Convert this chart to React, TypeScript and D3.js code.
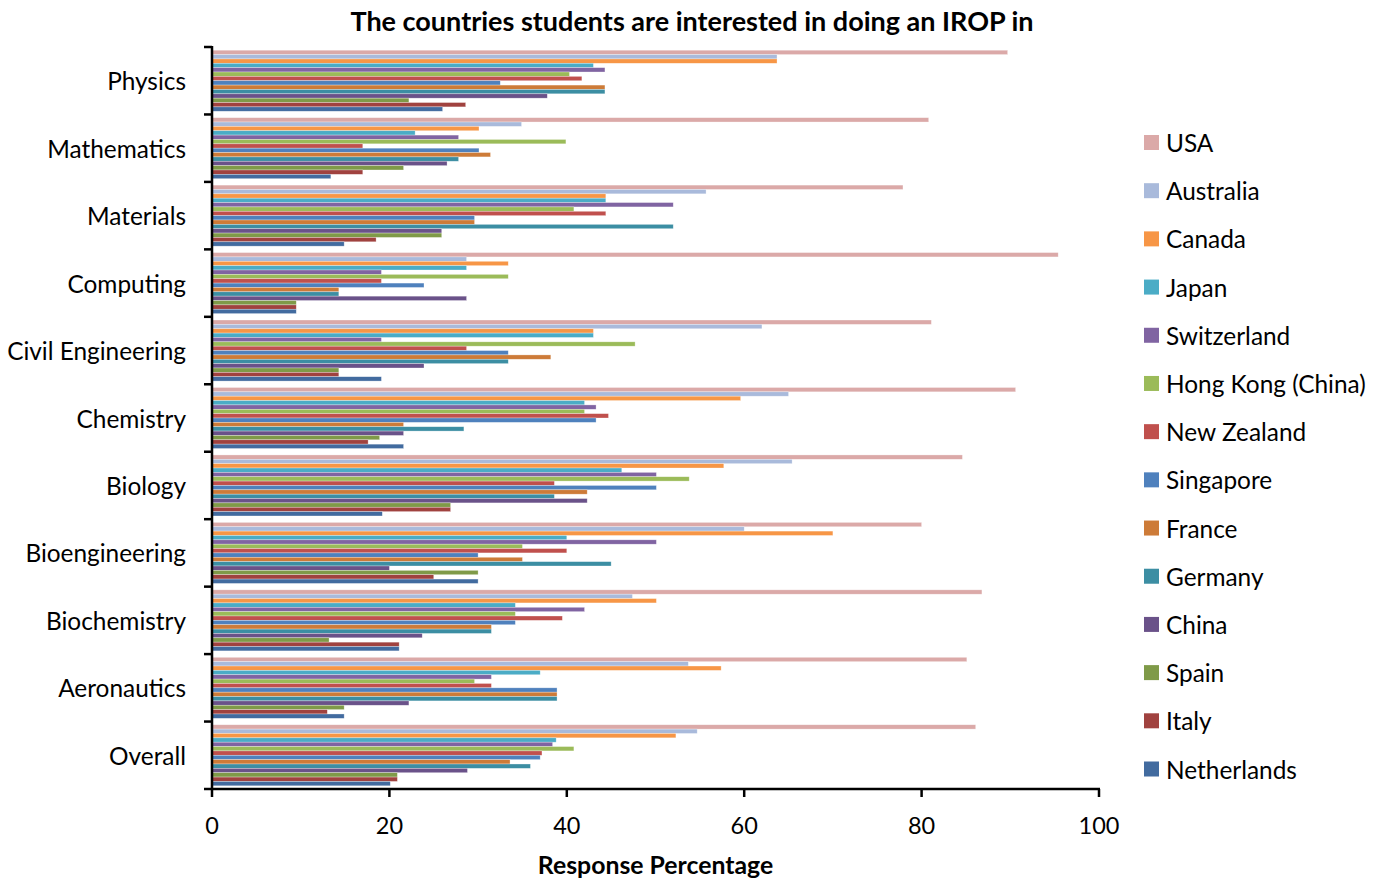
import * as d3 from "d3";
import { useEffect, useRef } from "react";

const categories = [
  "Physics",
  "Mathematics",
  "Materials",
  "Computing",
  "Civil Engineering",
  "Chemistry",
  "Biology",
  "Bioengineering",
  "Biochemistry",
  "Aeronautics",
  "Overall",
];

const countries = [
  "USA",
  "Australia",
  "Canada",
  "Japan",
  "Switzerland",
  "Hong Kong (China)",
  "New Zealand",
  "Singapore",
  "France",
  "Germany",
  "China",
  "Spain",
  "Italy",
  "Netherlands",
];

const colors = [
  "#DBA9A8",
  "#A9BADB",
  "#F79646",
  "#4BACC6",
  "#8064A2",
  "#9BBB59",
  "#C0504D",
  "#4F81BD",
  "#CD7B38",
  "#3C8EA3",
  "#6A5289",
  "#7F9A48",
  "#A0423F",
  "#426B9F",
];

// values per country, in the order of categories
const usa = [89.7, 80.8, 77.9, 95.4, 81.1, 90.6, 84.6, 80.0, 86.8, 85.1, 86.1];
const australia = [63.7, 34.9, 55.7, 28.7, 62.0, 65.0, 65.4, 60.0, 47.4, 53.7, 54.7];
const canada = [63.7, 30.1, 44.4, 33.4, 43.0, 59.6, 57.7, 70.0, 50.1, 57.4, 52.3];
const japan = [43.0, 22.9, 44.4, 28.7, 43.0, 42.0, 46.2, 40.0, 34.2, 37.0, 38.8];
const switzerland = [44.3, 27.8, 52.0, 19.1, 19.1, 43.3, 50.1, 50.1, 42.0, 31.5, 38.4];
const hongKong = [40.3, 39.9, 40.8, 33.4, 47.7, 42.0, 53.8, 35.0, 34.2, 29.6, 40.8];
const newZealand = [41.7, 17.0, 44.4, 19.1, 28.7, 44.7, 38.6, 40.0, 39.5, 31.5, 37.2];
const singapore = [32.5, 30.1, 29.6, 23.9, 33.4, 43.3, 50.1, 30.0, 34.2, 38.9, 37.0];
const france = [44.3, 31.4, 29.6, 14.3, 38.2, 21.6, 42.3, 35.0, 31.5, 38.9, 33.6];
const germany = [44.3, 27.8, 52.0, 14.3, 33.4, 28.4, 38.6, 45.0, 31.5, 38.9, 35.9];
const china = [37.8, 26.5, 25.9, 28.7, 23.9, 21.6, 42.3, 20.0, 23.7, 22.2, 28.8];
const spain = [22.2, 21.6, 25.9, 9.5, 14.3, 18.9, 26.9, 30.0, 13.2, 14.9, 20.9];
const italy = [28.6, 17.0, 18.5, 9.5, 14.3, 17.6, 26.9, 25.0, 21.1, 13.0, 20.9];
const netherlands = [26.0, 13.4, 14.9, 9.5, 19.1, 21.6, 19.2, 30.0, 21.1, 14.9, 20.1];

const seriesValues = [
  usa,
  australia,
  canada,
  japan,
  switzerland,
  hongKong,
  newZealand,
  singapore,
  france,
  germany,
  china,
  spain,
  italy,
  netherlands,
];

const xTicks = [0, 20, 40, 60, 80, 100];

const FONT = "Lato, 'Open Sans', sans-serif";

const CountryChart = () => {
  const svgRef = useRef<SVGSVGElement>(null);

  useEffect(() => {
    const svg = d3.select(svgRef.current);
    svg.selectAll("*").remove();

    const left = 212;
    const right = 1099;
    const top = 47;
    const bottom = 789;

    const x = d3.scaleLinear().domain([0, 100]).range([left, right]);
    const y = d3.scaleBand().domain(categories).range([top, bottom]);
    const bw = y.bandwidth();
    const gap = bw * 0.095;
    const yInner = d3
      .scaleBand()
      .domain(countries)
      .range([gap / 2, bw - gap / 2]);

    // bars
    categories.forEach((cat, ci) => {
      const g = svg.append("g").attr("transform", `translate(0,${y(cat)})`);
      countries.forEach((c, si) => {
        const v = seriesValues[si][ci];
        g.append("rect")
          .attr("x", x(0))
          .attr("y", yInner(c)!)
          .attr("width", x(v) - x(0))
          .attr("height", yInner.bandwidth())
          .attr("fill", colors[si])
          .attr("stroke", "rgba(255,255,255,0.5)")
          .attr("stroke-width", 0.6);
      });
    });

    // y axis
    svg
      .append("line")
      .attr("x1", left)
      .attr("x2", left)
      .attr("y1", top - 1)
      .attr("y2", bottom + 1)
      .attr("stroke", "#000")
      .attr("stroke-width", 2.5);

    const bounds = categories.map((c) => y(c)!).concat([bottom]);
    bounds.forEach((b) => {
      svg
        .append("line")
        .attr("x1", left - 8)
        .attr("x2", left)
        .attr("y1", b)
        .attr("y2", b)
        .attr("stroke", "#000")
        .attr("stroke-width", 2.5);
    });

    categories.forEach((cat) => {
      svg
        .append("text")
        .attr("x", 186)
        .attr("y", y(cat)! + bw / 2)
        .attr("text-anchor", "end")
        .attr("dominant-baseline", "central")
        .attr("font-family", FONT)
        .attr("font-size", 24.4)
        .attr("fill", "#000")
        .text(cat);
    });

    // x axis
    svg
      .append("line")
      .attr("x1", left - 1)
      .attr("x2", right + 1)
      .attr("y1", bottom)
      .attr("y2", bottom)
      .attr("stroke", "#000")
      .attr("stroke-width", 2.5);

    xTicks.forEach((t) => {
      svg
        .append("line")
        .attr("x1", x(t))
        .attr("x2", x(t))
        .attr("y1", bottom)
        .attr("y2", bottom + 8)
        .attr("stroke", "#000")
        .attr("stroke-width", 2.5);
      svg
        .append("text")
        .attr("x", x(t))
        .attr("y", 825)
        .attr("text-anchor", "middle")
        .attr("dominant-baseline", "central")
        .attr("font-family", FONT)
        .attr("font-size", 23.5)
        .attr("fill", "#000")
        .text(t);
    });

    svg
      .append("text")
      .attr("x", (left + right) / 2)
      .attr("y", 864)
      .attr("text-anchor", "middle")
      .attr("dominant-baseline", "central")
      .attr("font-family", FONT)
      .attr("font-size", 24.8)
      .attr("font-weight", "bold")
      .text("Response Percentage");

    // title
    svg
      .append("text")
      .attr("x", 692)
      .attr("y", 20)
      .attr("text-anchor", "middle")
      .attr("dominant-baseline", "central")
      .attr("font-family", FONT)
      .attr("font-size", 27)
      .attr("font-weight", "bold")
      .text("The countries students are interested in doing an IROP in");

    // legend
    const legendY = d3
      .scalePoint()
      .domain(countries)
      .range([142.5, 769]);
    countries.forEach((c, i) => {
      const ly = legendY(c)!;
      svg
        .append("rect")
        .attr("x", 1144)
        .attr("y", ly - 7.5)
        .attr("width", 15)
        .attr("height", 15)
        .attr("fill", colors[i]);
      svg
        .append("text")
        .attr("x", 1166)
        .attr("y", ly)
        .attr("dominant-baseline", "central")
        .attr("font-family", FONT)
        .attr("font-size", 24.4)
        .attr("fill", "#000")
        .text(c);
    });
  }, []);

  return (
    <div style={{ position: "absolute", left: 0, top: 0 }}>
      <svg
        ref={svgRef}
        width={1385}
        height={882}
        style={{ display: "block", background: "#fff" }}
      />
    </div>
  );
};

export default CountryChart;
